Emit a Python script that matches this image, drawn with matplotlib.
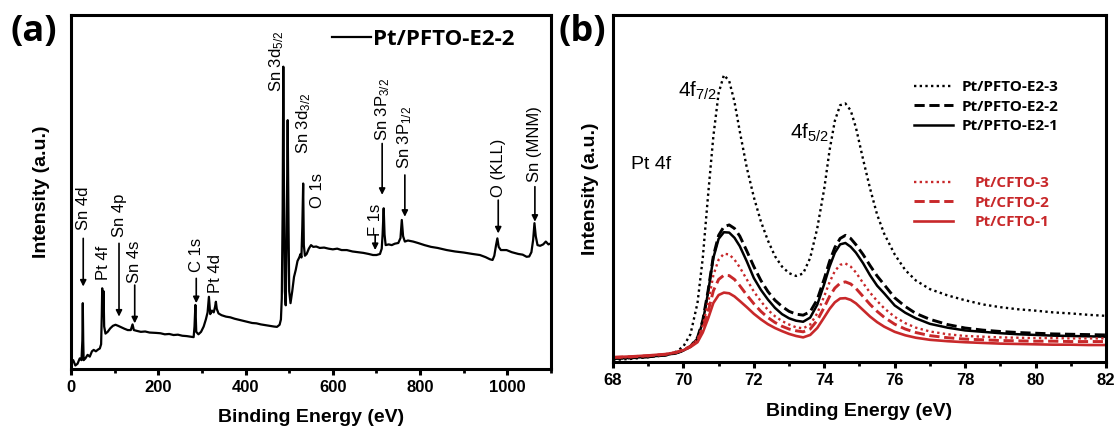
import numpy as np
import matplotlib
matplotlib.use("Agg")
import matplotlib.pyplot as plt
from matplotlib.ticker import MultipleLocator

plt.rcParams['font.family'] = ['Liberation Sans', 'DejaVu Sans']
plt.rcParams['mathtext.fontset'] = 'custom'
plt.rcParams['mathtext.rm'] = 'Liberation Sans'
plt.rcParams['mathtext.it'] = 'Liberation Sans:italic'
plt.rcParams['mathtext.bf'] = 'Liberation Sans:bold'

######################################################
# Data
######################################################

# (a) survey spectrum, Pt/PFTO-E2-2
survey_ev = [0, 5, 10, 15, 20, 24, 26, 27, 28, 29, 33, 38, 43, 48, 52, 57, 62, 66, 69,
             70.5, 71.5, 73, 74.5, 76, 79, 84, 90, 96, 102, 108, 115, 122, 130, 137, 141,
             144, 150, 160, 170, 180, 195, 205, 215, 225, 235, 245, 255, 265, 275, 281,
             283, 285, 287, 292, 298, 304, 309, 313, 316, 319, 323, 327, 330, 332, 334,
             338, 345, 355, 365, 375, 385, 395, 405, 415, 425, 435, 445, 455, 465, 472,
             478, 481, 483, 485, 486.5, 488, 490, 492, 494, 496.5, 498.5, 500, 503, 507,
             511, 515, 519, 523, 526, 528, 530, 532, 533.5, 536, 540, 545, 550, 555, 562,
             570, 580, 590, 600, 610, 620, 632, 645, 658, 670, 682, 692, 700, 708, 712,
             714, 716.5, 718.5, 721, 728, 735, 742, 750, 755, 758, 761, 765, 772, 784,
             795, 810, 825, 840, 861, 880, 900, 920, 937, 950, 960, 966, 970, 974, 977,
             980, 985, 998, 1010, 1025, 1035, 1044, 1050, 1055, 1059, 1062, 1065, 1069,
             1075, 1082, 1088, 1094, 1100]
survey_int = [2.0, 2.5, 1.0, 1.5, 3.0, 2.5, 8.0, 18.6, 8.0, 2.5, 3.0, 4.0, 3.5, 5.0, 5.4,
              5.0, 5.5, 5.8, 7.0, 15.0, 22.8, 15.0, 22.0, 12.0, 10.0, 10.5, 11.5, 12.2,
              12.5, 12.2, 11.8, 11.4, 11.0, 11.0, 12.6, 11.0, 10.8, 10.5, 10.6, 10.3,
              10.2, 10.1, 9.8, 9.9, 9.6, 9.7, 9.4, 9.3, 9.1, 9.0, 12.0, 18.1, 10.5, 9.8,
              10.5, 12.0, 14.0, 16.0, 20.4, 15.5, 16.5, 16.0, 17.5, 19.0, 17.0, 15.7,
              15.2, 14.8, 14.6, 14.2, 13.9, 13.6, 13.3, 13.0, 12.9, 12.6, 12.4, 12.2,
              12.0, 11.9, 12.5, 14.0, 20.0, 45.0, 85.4, 50.0, 22.0, 18.0, 35.0, 70.3,
              40.0, 22.0, 18.6, 22.0, 26.0, 28.0, 30.5, 31.5, 32.5, 31.5, 40.0, 52.4,
              35.0, 32.0, 32.5, 34.0, 35.0, 34.5, 34.6, 34.2, 34.3, 34.0, 33.8, 34.0,
              33.6, 33.6, 33.2, 33.0, 32.8, 32.5, 32.2, 32.2, 32.5, 34.0, 38.0, 45.4,
              38.0, 35.0, 35.2, 35.0, 35.4, 35.6, 37.0, 42.1, 37.5, 36.0, 36.3, 36.0,
              35.6, 35.0, 34.5, 34.2, 33.6, 33.2, 32.9, 32.5, 32.2, 31.6, 31.0, 30.8,
              32.0, 35.0, 36.9, 34.5, 33.6, 33.6, 33.0, 32.5, 32.3, 31.7, 31.8, 33.0,
              36.5, 41.2, 37.5, 35.0, 34.8, 35.2, 36.0, 35.2, 35.5]

# peak labels of (a): text, x (eV), text centre, arrow start, arrow tip
peak_labels = ["Sn 4d", "Pt 4f", "Sn 4p", "Sn 4s", "C 1s", "Pt 4d",
               r"Sn 3d$_{5/2}$", r"Sn 3d$_{3/2}$", "O 1s", "F 1s",
               r"Sn 3P$_{3/2}$", r"Sn 3P$_{1/2}$", "O (KLL)", "Sn (MNM)"]
peak_x = [28, 74, 110, 146, 287, 332, 472, 532, 565, 697, 713, 765, 979, 1063]
peak_text_y = [45.5, 30.0, 43.5, 30.3, 32.2, 27.0, 87.0, 69.4, 50.5, 42.0, 73.4, 65.4, 56.7, 63.5]
arrow_from = [36.9, None, 35.5, 23.7, 25.6, None, None, None, None, 37.9, 63.7, 54.8, 47.7, 51.5]
arrow_to = [23.3, None, 14.8, 12.9, 18.6, None, None, None, None, 33.6, 49.2, 43.0, 38.3, 41.6]

# (b) Pt 4f high resolution spectra
pt4f_ev = [68.0, 68.5, 69.0, 69.5, 69.8, 70.0, 70.2, 70.4, 70.55, 70.7, 70.85, 71.0, 71.15,
           71.3, 71.45, 71.6, 71.8, 72.0, 72.2, 72.4, 72.6, 72.8, 73.0, 73.2, 73.4, 73.6,
           73.8, 74.0, 74.15, 74.3, 74.45, 74.6, 74.75, 74.9, 75.1, 75.3, 75.5, 75.7,
           76.0, 76.3, 76.6, 77.0, 77.5, 78.0, 78.5, 79.0, 79.5, 80.0, 80.5, 81.0, 81.5, 82.0]
pfto_3 = [0.6, 0.9, 1.4, 2.0, 3.0, 4.5, 8.0, 17.0, 30.0, 48.0, 65.0, 77.5, 82.7, 81.0, 75.0,
          66.5, 56.0, 47.5, 40.5, 35.0, 30.5, 27.5, 25.6, 24.8, 25.5, 30.0, 38.5, 50.0,
          61.0, 69.5, 74.0, 74.5, 72.5, 67.5, 58.5, 50.0, 42.5, 37.0, 31.0, 26.5, 23.5,
          21.0, 19.2, 17.8, 16.6, 15.8, 15.2, 14.8, 14.3, 14.0, 13.6, 13.3]
pfto_2 = [1.0, 1.2, 1.5, 2.0, 2.6, 3.3, 4.5, 7.0, 12.0, 20.5, 30.5, 36.5, 39.0, 39.5, 38.5,
          36.3, 32.0, 27.5, 23.5, 20.3, 17.8, 16.0, 14.6, 13.8, 13.5, 14.5, 18.0, 24.0,
          29.0, 33.0, 35.6, 36.5, 35.6, 33.8, 31.0, 27.8, 24.8, 22.3, 18.5, 16.0, 14.0,
          12.3, 10.8, 9.8, 9.2, 8.8, 8.5, 8.3, 8.1, 8.0, 7.9, 7.8]
pfto_1 = [1.0, 1.2, 1.5, 2.0, 2.6, 3.3, 4.5, 6.8, 11.5, 20.0, 30.0, 35.5, 37.4, 37.3, 35.8,
          33.4, 29.0, 24.2, 20.8, 18.0, 15.6, 13.8, 12.6, 11.9, 11.6, 12.8, 16.5, 22.5,
          27.5, 31.5, 33.9, 34.3, 33.2, 31.5, 28.5, 25.0, 22.0, 19.8, 16.3, 14.2, 12.6,
          11.0, 9.9, 9.1, 8.7, 8.3, 8.0, 7.8, 7.6, 7.5, 7.4, 7.3]
cfto_3 = [1.2, 1.4, 1.7, 2.2, 2.8, 3.5, 4.6, 6.5, 10.5, 17.0, 25.0, 29.5, 31.2, 31.0, 29.5,
          27.3, 23.8, 20.3, 17.5, 15.0, 13.2, 11.8, 10.8, 10.0, 9.7, 10.8, 14.0, 19.0,
          23.0, 26.2, 28.0, 28.4, 27.5, 25.8, 22.8, 20.0, 17.6, 15.5, 13.0, 11.2, 9.9,
          8.8, 8.0, 7.5, 7.3, 7.1, 7.0, 6.9, 6.9, 6.8, 6.8, 6.8]
cfto_2 = [1.3, 1.5, 1.8, 2.2, 2.8, 3.5, 4.5, 6.2, 9.5, 14.5, 20.5, 23.8, 25.0, 24.9, 23.8,
          22.0, 19.3, 16.8, 14.6, 12.8, 11.4, 10.3, 9.5, 9.0, 8.7, 9.5, 12.0, 15.8, 18.9,
          21.3, 22.7, 23.1, 22.5, 21.2, 18.9, 16.6, 14.6, 12.9, 10.9, 9.5, 8.5, 7.6, 7.0,
          6.6, 6.4, 6.2, 6.1, 6.0, 6.0, 5.9, 5.9, 5.9]
cfto_1 = [1.4, 1.6, 1.9, 2.3, 2.8, 3.4, 4.3, 5.7, 8.5, 12.5, 17.0, 19.3, 20.0, 19.8, 18.9,
          17.6, 15.8, 13.9, 12.3, 10.9, 9.8, 8.9, 8.1, 7.5, 7.1, 7.8, 9.8, 12.9, 15.3,
          17.2, 18.3, 18.4, 17.9, 16.9, 15.0, 13.1, 11.5, 10.2, 8.7, 7.7, 7.0, 6.4, 6.0,
          5.7, 5.5, 5.3, 5.2, 5.1, 5.0, 5.0, 4.9, 4.9]

######################################################
# Helpers
######################################################

red = "#c8282a"
dotted = (0, (1, 1.4))
dashed = (0, (3.5, 1.6))
tick_font = dict(family="Liberation Sans", weight="bold", size=12)
label_font = dict(family="Liberation Sans", weight="bold", size=14)


def style_axis(ax, major, minor):
    for s in ax.spines.values():
        s.set_linewidth(2.2)
    ax.set_yticks([])
    ax.xaxis.set_major_locator(MultipleLocator(major))
    ax.xaxis.set_minor_locator(MultipleLocator(minor))
    ax.tick_params(axis="x", which="major", direction="out", length=4, width=2.2, pad=4)
    ax.tick_params(axis="x", which="minor", direction="out", length=3, width=2.0)
    for lab in ax.get_xticklabels():
        lab.set_fontproperties(matplotlib.font_manager.FontProperties(**tick_font))


######################################################
# Figure
######################################################

fig = plt.figure(figsize=(11.2, 4.32), dpi=100)
ax_a = fig.add_axes([0.0634, 0.1458, 0.4286, 0.8195])
ax_b = fig.add_axes([0.5473, 0.162, 0.4402, 0.8033])

##### (a) survey
ax_a.plot(survey_ev, survey_int, color="black", lw=1.6, label="Pt/PFTO-E2-2")
ax_a.set_xlim(0, 1100)
ax_a.set_ylim(0, 100)
style_axis(ax_a, 200, 100)
ax_a.set_xlabel("Binding Energy (eV)", fontdict=label_font, labelpad=10)
ax_a.set_ylabel("Intensity (a.u.)", fontdict=label_font, labelpad=15)

for lab, x, ty, y0, y1 in zip(peak_labels, peak_x, peak_text_y, arrow_from, arrow_to):
    ax_a.text(x, ty, lab, rotation=90, ha="center", va="center", fontsize=12)
    if y0 is not None:
        ax_a.annotate("", xy=(x, y1), xytext=(x, y0),
                      arrowprops=dict(arrowstyle="-|>", color="black", lw=1.2,
                                      mutation_scale=9, shrinkA=0, shrinkB=0))

ax_a.legend(loc="upper left", bbox_to_anchor=(0.544, 0.96), frameon=False,
            handlelength=1.75, handletextpad=0.1, borderpad=0, borderaxespad=0,
            prop=dict(family="Open Sans", weight="bold", size=16))

##### (b) Pt 4f
h3, = ax_b.plot(pt4f_ev, pfto_3, color="black", lw=1.7, ls=dotted)
h2, = ax_b.plot(pt4f_ev, pfto_2, color="black", lw=2.1, ls=dashed)
h1, = ax_b.plot(pt4f_ev, pfto_1, color="black", lw=1.8)
r3, = ax_b.plot(pt4f_ev, cfto_3, color=red, lw=1.7, ls=dotted)
r2, = ax_b.plot(pt4f_ev, cfto_2, color=red, lw=2.1, ls=dashed)
r1, = ax_b.plot(pt4f_ev, cfto_1, color=red, lw=1.9)
ax_b.set_xlim(68, 82)
ax_b.set_ylim(0, 100)
style_axis(ax_b, 2, 1)
ax_b.set_xlabel("Binding Energy (eV)", fontdict=label_font, labelpad=11)
ax_b.set_ylabel("Intensity (a.u.)", fontdict=label_font, labelpad=10)

ax_b.text(70.95, 78, r"4f$_{7/2}$", ha="right", va="center", fontsize=15)
ax_b.text(74.15, 66, r"4f$_{5/2}$", ha="right", va="center", fontsize=15)
ax_b.text(68.5, 57, "Pt 4f", ha="left", va="center", fontsize=14)

leg_prop = dict(family="Open Sans", weight="bold", size=11)
leg1 = ax_b.legend([h3, h2, h1], ["Pt/PFTO-E2-3", "Pt/PFTO-E2-2", "Pt/PFTO-E2-1"],
                   loc="upper left", bbox_to_anchor=(0.611, 0.812), frameon=False,
                   handlelength=2.55, handletextpad=0.55, labelspacing=0.35,
                   borderpad=0, borderaxespad=0, prop=leg_prop)
ax_b.add_artist(leg1)
leg2 = ax_b.legend([r3, r2, r1], ["Pt/CFTO-3", "Pt/CFTO-2", "Pt/CFTO-1"],
                   loc="upper left", bbox_to_anchor=(0.611, 0.535), frameon=False,
                   handlelength=2.55, handletextpad=1.4, labelspacing=0.35,
                   borderpad=0, borderaxespad=0, prop=leg_prop, labelcolor=red)

fig.text(0.03, 0.925, "(a)", ha="center", va="center", fontsize=26,
         fontfamily="Open Sans", fontweight="bold")
fig.text(0.52, 0.925, "(b)", ha="center", va="center", fontsize=26,
         fontfamily="Open Sans", fontweight="bold")

fig.savefig("out.png", dpi=100)
